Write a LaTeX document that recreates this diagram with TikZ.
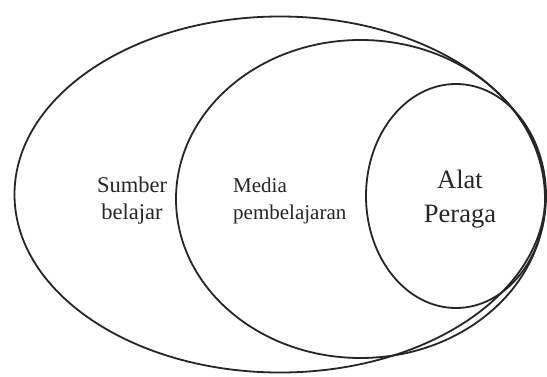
\documentclass[tikz,border=0pt]{standalone}
\usepackage{fontspec}
\setmainfont{Liberation Serif}
\begin{document}
\begin{tikzpicture}[x=1pt,y=-1pt,
  ring/.style={draw=black!85,line width=1.8pt},
  lab/.style={text=black!85,inner sep=0pt,anchor=base}]
\useasboundingbox (0,0) rectangle (547,377);
\fill[white] (0,0) rectangle (547,377);
\draw[ring] (280,194.5) ellipse [x radius=265.5, y radius=178];
\draw[ring] (360.5,199) ellipse [x radius=184.5, y radius=159];
\draw[ring] (456,196) ellipse [x radius=90, y radius=112];
\node[lab,font=\fontsize{22.5}{27}\selectfont,align=center] (sb) at (132,220) {Sumber\\belajar};
\node[lab,font=\fontsize{21}{27}\selectfont,align=left,anchor=base west] (mp) at (233,220) {Media\\pembelajaran};
\node[lab,font=\fontsize{26.5}{34}\selectfont,align=center] (ap) at (460,223) {Alat\\Peraga};
\end{tikzpicture}
\end{document}
